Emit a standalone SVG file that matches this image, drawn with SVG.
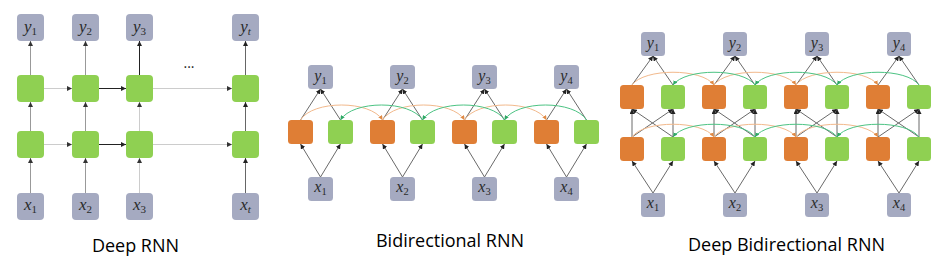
<svg xmlns="http://www.w3.org/2000/svg" width="939" height="273" viewBox="0 0 939 273">
<style>
.io{fill:#a5aac1}
.gr{fill:#8fd052}
.or{fill:#df7e35}
.lb{font-family:"Liberation Serif",serif;font-style:italic;font-size:17px;fill:#2a2a2a;text-anchor:middle}
.lb tspan{font-style:normal;font-size:11px}
.lbs{font-size:16px}
.lbs tspan{font-size:10.5px}
.tt{font-family:"Open Sans","Noto Sans",sans-serif;font-size:18px;fill:#000;text-anchor:middle}
.c line,.c path{fill:none;stroke-width:1}
.g{stroke:#999;marker-end:url(#ag)}
.lt{stroke:#ccc;marker-end:url(#ag)}
.bk{stroke:#222;marker-end:url(#ab)}
.dk{stroke:#666;marker-end:url(#ab)}
.m{stroke:#6a6a6a;marker-end:url(#ab)}
.ao{stroke:#f2b98c;marker-end:url(#ao)}
.ag{stroke:#4cc383;marker-end:url(#agr)}
</style>
<defs>
<marker id="ag" viewBox="0 0 6 6" refX="6" refY="3" markerWidth="5" markerHeight="5" markerUnits="userSpaceOnUse" orient="auto"><path d="M0,0L6,3L0,6z" fill="#333"/></marker>
<marker id="ab" viewBox="0 0 6 6" refX="6" refY="3" markerWidth="5" markerHeight="5" markerUnits="userSpaceOnUse" orient="auto"><path d="M0,0L6,3L0,6z" fill="#222"/></marker>
<marker id="ao" viewBox="0 0 6 6" refX="6" refY="3" markerWidth="4.5" markerHeight="4.5" markerUnits="userSpaceOnUse" orient="auto"><path d="M0,0L6,3L0,6z" fill="#e08a45"/></marker>
<marker id="agr" viewBox="0 0 6 6" refX="6" refY="3" markerWidth="4.5" markerHeight="4.5" markerUnits="userSpaceOnUse" orient="auto"><path d="M0,0L6,3L0,6z" fill="#2ea865"/></marker>
</defs>

<g id="connectors" class="c">
<!-- Deep RNN -->
<line x1="30.5" y1="193" x2="30.5" y2="158" class="g"/>
<line x1="30.5" y1="131" x2="30.5" y2="102" class="g"/>
<line x1="30.5" y1="75" x2="30.5" y2="41" class="g"/>
<line x1="85.5" y1="193" x2="85.5" y2="158" class="g"/>
<line x1="85.5" y1="131" x2="85.5" y2="102" class="g"/>
<line x1="85.5" y1="75" x2="85.5" y2="41" class="g"/>
<line x1="139.5" y1="193" x2="139.5" y2="158" class="lt"/>
<line x1="139.5" y1="131" x2="139.5" y2="102" class="lt"/>
<line x1="139.5" y1="75" x2="139.5" y2="41" class="bk"/>
<line x1="245.5" y1="193" x2="245.5" y2="158" class="dk"/>
<line x1="245.5" y1="131" x2="245.5" y2="102" class="dk"/>
<line x1="245.5" y1="75" x2="245.5" y2="41" class="dk"/>
<line x1="44" y1="88.5" x2="72" y2="88.5" class="lt"/>
<line x1="99" y1="88.5" x2="126" y2="88.5" class="bk"/>
<line x1="153" y1="88.5" x2="232" y2="88.5" class="lt"/>
<line x1="44" y1="144.5" x2="72" y2="144.5" class="lt"/>
<line x1="99" y1="144.5" x2="126" y2="144.5" class="bk"/>
<line x1="153" y1="144.5" x2="232" y2="144.5" class="lt"/>

<!-- Bidirectional RNN -->
<line x1="320.5" y1="177" x2="300.5" y2="144" class="m"/>
<line x1="320.5" y1="177" x2="340.5" y2="144" class="m"/>
<line x1="300.5" y1="120" x2="320.5" y2="89" class="m"/>
<line x1="340.5" y1="120" x2="320.5" y2="89" class="m"/>
<line x1="402.5" y1="177" x2="382.5" y2="144" class="m"/>
<line x1="402.5" y1="177" x2="422.5" y2="144" class="m"/>
<line x1="382.5" y1="120" x2="402.5" y2="89" class="m"/>
<line x1="422.5" y1="120" x2="402.5" y2="89" class="m"/>
<line x1="484.5" y1="177" x2="464.5" y2="144" class="m"/>
<line x1="484.5" y1="177" x2="504.5" y2="144" class="m"/>
<line x1="464.5" y1="120" x2="484.5" y2="89" class="m"/>
<line x1="504.5" y1="120" x2="484.5" y2="89" class="m"/>
<line x1="566.5" y1="177" x2="546.5" y2="144" class="m"/>
<line x1="566.5" y1="177" x2="586.5" y2="144" class="m"/>
<line x1="546.5" y1="120" x2="566.5" y2="89" class="m"/>
<line x1="586.5" y1="120" x2="566.5" y2="89" class="m"/>
<path d="M300.5,120 C312.5,100 370.5,100 382.5,120" class="ao"/>
<path d="M382.5,120 C394.5,100 452.5,100 464.5,120" class="ao"/>
<path d="M464.5,120 C476.5,100 534.5,100 546.5,120" class="ao"/>
<path d="M422.5,120 C410.5,100 352.5,100 340.5,120" class="ag"/>
<path d="M504.5,120 C492.5,100 434.5,100 422.5,120" class="ag"/>
<path d="M586.5,120 C574.5,100 516.5,100 504.5,120" class="ag"/>

<!-- Deep Bidirectional RNN -->
<line x1="653" y1="193" x2="632" y2="161" class="m"/>
<line x1="653" y1="193" x2="673" y2="161" class="m"/>
<line x1="632" y1="137" x2="632" y2="109" class="m"/>
<line x1="632" y1="137" x2="673" y2="109" class="m"/>
<line x1="673" y1="137" x2="632" y2="109" class="m"/>
<line x1="673" y1="137" x2="673" y2="109" class="m"/>
<line x1="632" y1="85" x2="653" y2="56" class="m"/>
<line x1="673" y1="85" x2="653" y2="56" class="m"/>

<line x1="735" y1="193" x2="714" y2="161" class="m"/>
<line x1="735" y1="193" x2="755" y2="161" class="m"/>
<line x1="714" y1="137" x2="714" y2="109" class="m"/>
<line x1="714" y1="137" x2="755" y2="109" class="m"/>
<line x1="755" y1="137" x2="714" y2="109" class="m"/>
<line x1="755" y1="137" x2="755" y2="109" class="m"/>
<line x1="714" y1="85" x2="735" y2="56" class="m"/>
<line x1="755" y1="85" x2="735" y2="56" class="m"/>

<line x1="817" y1="193" x2="796" y2="161" class="m"/>
<line x1="817" y1="193" x2="837" y2="161" class="m"/>
<line x1="796" y1="137" x2="796" y2="109" class="m"/>
<line x1="796" y1="137" x2="837" y2="109" class="m"/>
<line x1="837" y1="137" x2="796" y2="109" class="m"/>
<line x1="837" y1="137" x2="837" y2="109" class="m"/>
<line x1="796" y1="85" x2="817" y2="56" class="m"/>
<line x1="837" y1="85" x2="817" y2="56" class="m"/>

<line x1="899" y1="193" x2="878" y2="161" class="m"/>
<line x1="899" y1="193" x2="919" y2="161" class="m"/>
<line x1="878" y1="137" x2="878" y2="109" class="m"/>
<line x1="878" y1="137" x2="919" y2="109" class="m"/>
<line x1="919" y1="137" x2="878" y2="109" class="m"/>
<line x1="919" y1="137" x2="919" y2="109" class="m"/>
<line x1="878" y1="85" x2="899" y2="56" class="m"/>
<line x1="919" y1="85" x2="899" y2="56" class="m"/>

<path d="M632,85 C644,68 702,68 714,85" class="ao"/>
<path d="M714,85 C726,68 784,68 796,85" class="ao"/>
<path d="M796,85 C808,68 866,68 878,85" class="ao"/>
<path d="M755,85 C743,68 685,68 673,85" class="ag"/>
<path d="M837,85 C825,68 767,68 755,85" class="ag"/>
<path d="M919,85 C907,68 849,68 837,85" class="ag"/>
<path d="M632,137 C644,120 702,120 714,137" class="ao"/>
<path d="M714,137 C726,120 784,120 796,137" class="ao"/>
<path d="M796,137 C808,120 866,120 878,137" class="ao"/>
<path d="M755,137 C743,120 685,120 673,137" class="ag"/>
<path d="M837,137 C825,120 767,120 755,137" class="ag"/>
<path d="M919,137 C907,120 849,120 837,137" class="ag"/>
</g>

<!-- Deep RNN nodes -->
<g id="d-y1"><rect class="io" x="17" y="14" width="27" height="27" rx="4"/><text class="lb" x="30.5" y="32">y<tspan dy="3">1</tspan></text></g>
<g id="d-y2"><rect class="io" x="72" y="14" width="27" height="27" rx="4"/><text class="lb" x="85.5" y="32">y<tspan dy="3">2</tspan></text></g>
<g id="d-y3"><rect class="io" x="126" y="14" width="27" height="27" rx="4"/><text class="lb" x="139.5" y="32">y<tspan dy="3">3</tspan></text></g>
<g id="d-yt"><rect class="io" x="232" y="14" width="27" height="27" rx="4"/><text class="lb" x="245.5" y="32">y<tspan dy="3" style="font-style:italic">t</tspan></text></g>
<g id="d-h2-1"><rect class="gr" x="17" y="75" width="27" height="27" rx="4"/></g>
<g id="d-h2-2"><rect class="gr" x="72" y="75" width="27" height="27" rx="4"/></g>
<g id="d-h2-3"><rect class="gr" x="126" y="75" width="27" height="27" rx="4"/></g>
<g id="d-h2-t"><rect class="gr" x="232" y="75" width="27" height="27" rx="4"/></g>
<g id="d-h1-1"><rect class="gr" x="17" y="131" width="27" height="27" rx="4"/></g>
<g id="d-h1-2"><rect class="gr" x="72" y="131" width="27" height="27" rx="4"/></g>
<g id="d-h1-3"><rect class="gr" x="126" y="131" width="27" height="27" rx="4"/></g>
<g id="d-h1-t"><rect class="gr" x="232" y="131" width="27" height="27" rx="4"/></g>
<g id="d-x1"><rect class="io" x="17" y="193" width="27" height="27" rx="4"/><text class="lb" x="30.5" y="210">x<tspan dy="3">1</tspan></text></g>
<g id="d-x2"><rect class="io" x="72" y="193" width="27" height="27" rx="4"/><text class="lb" x="85.5" y="210">x<tspan dy="3">2</tspan></text></g>
<g id="d-x3"><rect class="io" x="126" y="193" width="27" height="27" rx="4"/><text class="lb" x="139.5" y="210">x<tspan dy="3">3</tspan></text></g>
<g id="d-xt"><rect class="io" x="232" y="193" width="27" height="27" rx="4"/><text class="lb" x="245.5" y="210">x<tspan dy="3" style="font-style:italic">t</tspan></text></g>
<text x="189" y="68" font-family="Open Sans, sans-serif" font-size="14" fill="#222" text-anchor="middle">...</text>
<text class="tt" x="135.5" y="252">Deep RNN</text>

<!-- Bidirectional RNN nodes -->
<g id="b-y1"><rect class="io" x="308" y="65" width="25" height="24" rx="3.5"/><text class="lb lbs" x="320.5" y="81">y<tspan dy="3">1</tspan></text></g>
<g id="b-y2"><rect class="io" x="390" y="65" width="25" height="24" rx="3.5"/><text class="lb lbs" x="402.5" y="81">y<tspan dy="3">2</tspan></text></g>
<g id="b-y3"><rect class="io" x="472" y="65" width="25" height="24" rx="3.5"/><text class="lb lbs" x="484.5" y="81">y<tspan dy="3">3</tspan></text></g>
<g id="b-y4"><rect class="io" x="554" y="65" width="25" height="24" rx="3.5"/><text class="lb lbs" x="566.5" y="81">y<tspan dy="3">4</tspan></text></g>
<g id="b-f1"><rect class="or" x="288" y="120" width="25" height="24" rx="3.5"/></g>
<g id="b-b1"><rect class="gr" x="328" y="120" width="25" height="24" rx="3.5"/></g>
<g id="b-f2"><rect class="or" x="370" y="120" width="25" height="24" rx="3.5"/></g>
<g id="b-b2"><rect class="gr" x="410" y="120" width="25" height="24" rx="3.5"/></g>
<g id="b-f3"><rect class="or" x="452" y="120" width="25" height="24" rx="3.5"/></g>
<g id="b-b3"><rect class="gr" x="492" y="120" width="25" height="24" rx="3.5"/></g>
<g id="b-f4"><rect class="or" x="534" y="120" width="25" height="24" rx="3.5"/></g>
<g id="b-b4"><rect class="gr" x="574" y="120" width="25" height="24" rx="3.5"/></g>
<g id="b-x1"><rect class="io" x="308" y="177" width="25" height="24" rx="3.5"/><text class="lb lbs" x="320.5" y="192">x<tspan dy="3">1</tspan></text></g>
<g id="b-x2"><rect class="io" x="390" y="177" width="25" height="24" rx="3.5"/><text class="lb lbs" x="402.5" y="192">x<tspan dy="3">2</tspan></text></g>
<g id="b-x3"><rect class="io" x="472" y="177" width="25" height="24" rx="3.5"/><text class="lb lbs" x="484.5" y="192">x<tspan dy="3">3</tspan></text></g>
<g id="b-x4"><rect class="io" x="554" y="177" width="25" height="24" rx="3.5"/><text class="lb lbs" x="566.5" y="192">x<tspan dy="3">4</tspan></text></g>
<text class="tt" x="450" y="247">Bidirectional RNN</text>

<!-- Deep Bidirectional RNN nodes -->
<g id="db-y1"><rect class="io" x="641" y="32" width="24" height="24" rx="3.5"/><text class="lb lbs" x="653" y="48">y<tspan dy="3">1</tspan></text></g>
<g id="db-y2"><rect class="io" x="723" y="32" width="24" height="24" rx="3.5"/><text class="lb lbs" x="735" y="48">y<tspan dy="3">2</tspan></text></g>
<g id="db-y3"><rect class="io" x="805" y="32" width="24" height="24" rx="3.5"/><text class="lb lbs" x="817" y="48">y<tspan dy="3">3</tspan></text></g>
<g id="db-y4"><rect class="io" x="887" y="32" width="24" height="24" rx="3.5"/><text class="lb lbs" x="899" y="48">y<tspan dy="3">4</tspan></text></g>
<g id="db-f2-1"><rect class="or" x="620" y="85" width="24" height="24" rx="3.5"/></g>
<g id="db-b2-1"><rect class="gr" x="661" y="85" width="24" height="24" rx="3.5"/></g>
<g id="db-f2-2"><rect class="or" x="702" y="85" width="24" height="24" rx="3.5"/></g>
<g id="db-b2-2"><rect class="gr" x="743" y="85" width="24" height="24" rx="3.5"/></g>
<g id="db-f2-3"><rect class="or" x="784" y="85" width="24" height="24" rx="3.5"/></g>
<g id="db-b2-3"><rect class="gr" x="825" y="85" width="24" height="24" rx="3.5"/></g>
<g id="db-f2-4"><rect class="or" x="866" y="85" width="24" height="24" rx="3.5"/></g>
<g id="db-b2-4"><rect class="gr" x="907" y="85" width="24" height="24" rx="3.5"/></g>
<g id="db-f1-1"><rect class="or" x="620" y="137" width="24" height="24" rx="3.5"/></g>
<g id="db-b1-1"><rect class="gr" x="661" y="137" width="24" height="24" rx="3.5"/></g>
<g id="db-f1-2"><rect class="or" x="702" y="137" width="24" height="24" rx="3.5"/></g>
<g id="db-b1-2"><rect class="gr" x="743" y="137" width="24" height="24" rx="3.5"/></g>
<g id="db-f1-3"><rect class="or" x="784" y="137" width="24" height="24" rx="3.5"/></g>
<g id="db-b1-3"><rect class="gr" x="825" y="137" width="24" height="24" rx="3.5"/></g>
<g id="db-f1-4"><rect class="or" x="866" y="137" width="24" height="24" rx="3.5"/></g>
<g id="db-b1-4"><rect class="gr" x="907" y="137" width="24" height="24" rx="3.5"/></g>
<g id="db-x1"><rect class="io" x="641" y="193" width="24" height="24" rx="3.5"/><text class="lb lbs" x="653" y="208">x<tspan dy="3">1</tspan></text></g>
<g id="db-x2"><rect class="io" x="723" y="193" width="24" height="24" rx="3.5"/><text class="lb lbs" x="735" y="208">x<tspan dy="3">2</tspan></text></g>
<g id="db-x3"><rect class="io" x="805" y="193" width="24" height="24" rx="3.5"/><text class="lb lbs" x="817" y="208">x<tspan dy="3">3</tspan></text></g>
<g id="db-x4"><rect class="io" x="887" y="193" width="24" height="24" rx="3.5"/><text class="lb lbs" x="899" y="208">x<tspan dy="3">4</tspan></text></g>
<text class="tt" x="786.5" y="251">Deep Bidirectional RNN</text>
</svg>
